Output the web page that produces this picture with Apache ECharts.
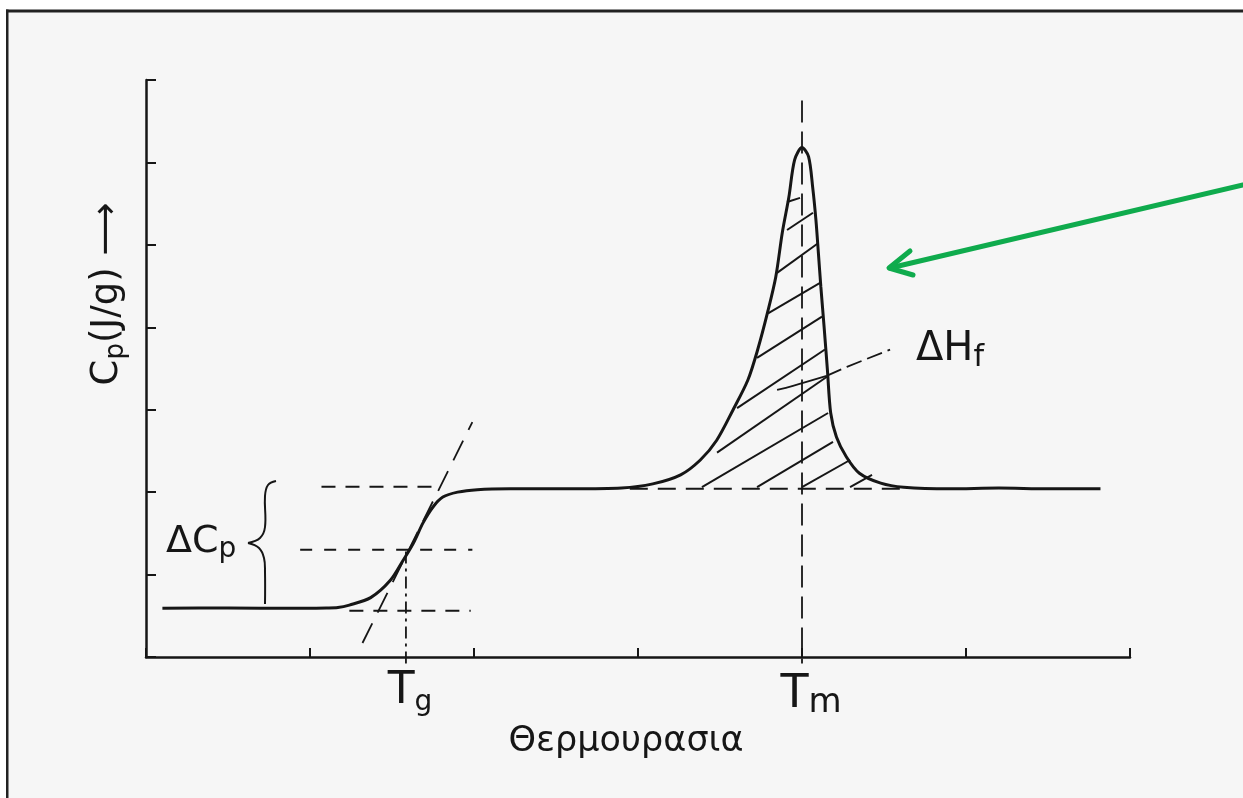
<!DOCTYPE html>
<html>
<head>
<meta charset="utf-8">
<script src="https://cdn.jsdelivr.net/npm/echarts@6/dist/echarts.min.js"></script>
<style>
html,body{margin:0;padding:0;background:#ffffff;}
#chart{width:1243px;height:798px;}
</style>
</head>
<body>
<div id="chart"></div>
<script>
// ---- data (x: temperature units, y: Cp units) ----
const xRange = [0, 6];
const yRange = [0, 7];
const cpCurve = [
  [0.10,0.59],[0.50,0.595],[0.90,0.59],[1.10,0.595],[1.17,0.60],[1.24,0.63],[1.37,0.72],
  [1.49,0.93],[1.57,1.18],[1.63,1.38],[1.69,1.63],[1.75,1.82],[1.81,1.94],[1.90,2.00],
  [2.02,2.03],[2.22,2.04],[2.60,2.04],[2.90,2.05],[3.09,2.10],[3.26,2.21],[3.38,2.39],
  [3.48,2.63],[3.58,3.00],[3.67,3.36],[3.73,3.73],[3.79,4.18],[3.84,4.61],[3.88,5.15],
  [3.92,5.58],[3.955,6.03],[4.00,6.18],[4.04,6.07],[4.065,5.70],[4.085,5.30],[4.10,4.90],
  [4.115,4.49],[4.135,4.00],[4.155,3.48],[4.175,2.96],[4.21,2.67],[4.27,2.43],[4.35,2.23],
  [4.48,2.11],[4.62,2.06],[4.90,2.04],[5.20,2.05],[5.50,2.04],[5.82,2.04]
];
const cpUpperLevel = [[1.07,2.065],[1.80,2.065]];
const cpMidLevel   = [[0.94,1.30],[1.99,1.30]];
const cpLowerLevel = [[1.24,0.56],[1.98,0.56]];
const tgVertical   = [[1.585,1.28],[1.585,-0.08]];
const tgTangent    = [[1.32,0.17],[1.99,2.85]];
const peakBaseline = [[2.95,2.04],[4.60,2.04]];
const tmVertical   = [[4.00,6.75],[4.00,-0.08]];
const hatchLines = [
  [[3.909,5.52],[3.988,5.57]],
  [[3.909,5.18],[4.067,5.39]],
  [[3.848,4.66],[4.098,5.02]],
  [[3.793,4.17],[4.110,4.54]],
  [[3.726,3.63],[4.122,4.13]],
  [[3.604,3.02],[4.140,3.73]],
  [[3.482,2.48],[4.152,3.40]],
  [[3.390,2.06],[4.159,2.96]],
  [[3.726,2.06],[4.189,2.61]],
  [[4.000,2.06],[4.293,2.39]],
  [[4.293,2.06],[4.427,2.21]]
];
const dhLeaderSolid  = [[3.848,3.24],[3.945,3.29],[4.150,3.41]];
const dhLeaderDashed = [[4.150,3.41],[4.274,3.52],[4.537,3.73]];
const labels = {
  yName: ['C', 'p', '(J/g) ⟶'],
  xName: 'Θερμουρασια',
  tg: ['T', 'g'],
  tm: ['T', 'm'],
  dcp: ['ΔC', 'p'],
  dhf: ['ΔH', 'f']
};

// ---- chart ----
const FONT = 'DejaVu Sans';
const INK = '#161616';
const chart = echarts.init(document.getElementById('chart'), null, {renderer: 'canvas'});

function seg(data, type, width, extra) {
  return Object.assign({
    type: 'line', data: data, symbol: 'none', showSymbol: false, silent: true,
    clip: false, animation: false,
    lineStyle: {color: INK, width: width, type: type}
  }, extra || {});
}

const series = [
  seg(cpCurve, 'solid', 3, {smooth: 0.3, z: 5}),
  seg(cpUpperLevel, [14, 10], 2),
  seg(cpMidLevel, [12, 12], 2),
  seg(cpLowerLevel, [14, 10], 2),
  seg(tgVertical, [12, 5, 3, 5], 1.8),
  seg(tgTangent, [22, 12], 1.8),
  seg(peakBaseline, [18, 10], 2),
  seg(tmVertical, [22, 9], 1.8),
  seg(dhLeaderSolid, 'solid', 1.8, {smooth: 0.4}),
  seg(dhLeaderDashed, [16, 6], 1.8)
];
hatchLines.forEach(h => series.push(seg(h, 'solid', 2)));

const textStyleBase = {fontFamily: FONT, fill: INK};

chart.setOption({
  backgroundColor: '#f6f6f6',
  animation: false,
  grid: {left: 146, right: 113, top: 80, bottom: 141},
  xAxis: {
    type: 'value', min: xRange[0], max: xRange[1], interval: 1,
    axisLine: {show: true, onZero: false, lineStyle: {color: INK, width: 2.5}},
    axisTick: {show: true, inside: true, length: 9, lineStyle: {color: INK, width: 2}},
    axisLabel: {show: false}, splitLine: {show: false}
  },
  yAxis: {
    type: 'value', min: yRange[0], max: yRange[1], interval: 1,
    axisLine: {show: true, onZero: false, lineStyle: {color: INK, width: 2.5}},
    axisTick: {show: true, inside: true, length: 10, lineStyle: {color: INK, width: 2}},
    axisLabel: {show: false}, splitLine: {show: false}
  },
  series: series,
  graphic: [
    // scan frame
    {type: 'rect', shape: {x: 0, y: 0, width: 1243, height: 10}, style: {fill: '#ffffff'}, silent: true},
    {type: 'rect', shape: {x: 0, y: 0, width: 6, height: 798}, style: {fill: '#ffffff'}, silent: true},
    {type: 'rect', shape: {x: 6, y: 9.5, width: 1237, height: 3}, style: {fill: '#222222'}, silent: true},
    {type: 'rect', shape: {x: 6, y: 9.5, width: 2.5, height: 789}, style: {fill: '#222222'}, silent: true},
    // y axis name
    {type: 'text', x: 107, y: 294, rotation: Math.PI / 2, silent: true,
     style: Object.assign({}, textStyleBase, {
       text: '{a|' + labels.yName[0] + '}{b|' + labels.yName[1] + '}{a|' + labels.yName[2] + '}',
       align: 'center', verticalAlign: 'middle',
       rich: {a: {fontSize: 37, lineHeight: 44, fontFamily: FONT, color: INK},
              b: {fontSize: 26, lineHeight: 26, verticalAlign: 'bottom', fontFamily: FONT, color: INK}}
     })},
    // x axis name
    {type: 'text', x: 626, y: 742, silent: true,
     style: Object.assign({}, textStyleBase, {text: labels.xName, fontSize: 35, align: 'center', verticalAlign: 'middle'})},
    // Tg
    {type: 'text', x: 410, y: 692, silent: true,
     style: Object.assign({}, textStyleBase, {
       text: '{a|' + labels.tg[0] + '}{b|' + labels.tg[1] + '}', align: 'center', verticalAlign: 'middle',
       rich: {a: {fontSize: 44, lineHeight: 50, fontFamily: FONT, color: INK},
              b: {fontSize: 28, lineHeight: 28, verticalAlign: 'bottom', fontFamily: FONT, color: INK}}
     })},
    // Tm
    {type: 'text', x: 811, y: 695, silent: true,
     style: Object.assign({}, textStyleBase, {
       text: '{a|' + labels.tm[0] + '}{b|' + labels.tm[1] + '}', align: 'center', verticalAlign: 'middle',
       rich: {a: {fontSize: 46, lineHeight: 50, fontFamily: FONT, color: INK},
              b: {fontSize: 34, lineHeight: 34, verticalAlign: 'bottom', fontFamily: FONT, color: INK}}
     })},
    // ΔCp
    {type: 'text', x: 166, y: 542, silent: true,
     style: Object.assign({}, textStyleBase, {
       text: '{a|' + labels.dcp[0] + '}{b|' + labels.dcp[1] + '}', align: 'left', verticalAlign: 'middle',
       rich: {a: {fontSize: 38, lineHeight: 44, fontFamily: FONT, color: INK},
              b: {fontSize: 28, lineHeight: 28, verticalAlign: 'bottom', fontFamily: FONT, color: INK}}
     })},
    // ΔHf
    {type: 'text', x: 916, y: 350, silent: true,
     style: Object.assign({}, textStyleBase, {
       text: '{a|' + labels.dhf[0] + '}{b|' + labels.dhf[1] + '}', align: 'left', verticalAlign: 'middle',
       rich: {a: {fontSize: 40, lineHeight: 46, fontFamily: FONT, color: INK},
              b: {fontSize: 30, lineHeight: 30, verticalAlign: 'bottom', fontFamily: FONT, color: INK}}
     })},
    // brace for ΔCp
    {type: 'polyline', silent: true,
     shape: {points: [[276,481],[268,485],[265,496],[265,527],[260,538],[248,543]], smooth: 0.4},
     style: {stroke: INK, lineWidth: 2, fill: null}},
    {type: 'polyline', silent: true,
     shape: {points: [[248,543],[259,548],[264,558],[265,572],[265,604]], smooth: 0.4},
     style: {stroke: INK, lineWidth: 2, fill: null}},
    // green annotation arrow
    {type: 'line', silent: true, shape: {x1: 1243, y1: 185, x2: 890, y2: 268},
     style: {stroke: '#0fab4d', lineWidth: 5, lineCap: 'round'}},
    {type: 'polyline', silent: true, shape: {points: [[910,251],[889,268],[913,275]]},
     style: {stroke: '#0fab4d', lineWidth: 5, lineCap: 'round', lineJoin: 'round', fill: null}}
  ]
});
</script>
</body>
</html>
